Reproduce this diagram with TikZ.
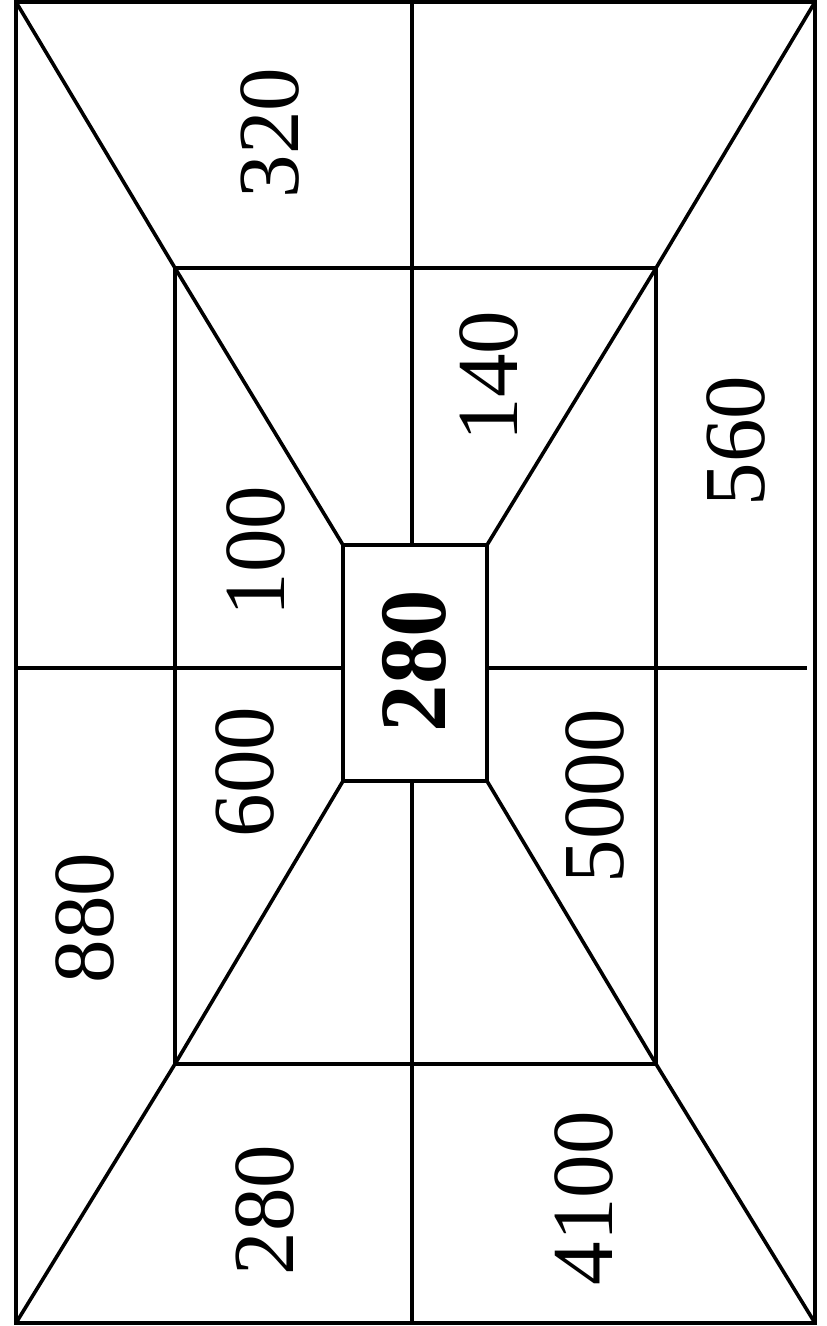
\documentclass[tikz,border=0pt]{standalone}
\usepackage{fontspec}
\setmainfont{Liberation Serif}
\begin{document}
\begin{tikzpicture}[x=1pt,y=-1pt,line width=3.6pt,
  lbl/.style={rotate=90,inner sep=0pt,font=\fontsize{87}{87}\selectfont},
  blbl/.style={rotate=90,inner sep=0pt,font=\fontsize{95}{95}\selectfont\bfseries}]
\useasboundingbox (0,0) rectangle (827,1326);
\coordinate (O1) at (16,2);
\coordinate (O2) at (815,2);
\coordinate (O3) at (815,1323);
\coordinate (O4) at (16,1323);
\coordinate (M1) at (175,268);
\coordinate (M2) at (656,268);
\coordinate (M3) at (656,1064);
\coordinate (M4) at (175,1064);
\coordinate (I1) at (343,545);
\coordinate (I2) at (487,545);
\coordinate (I3) at (487,781);
\coordinate (I4) at (343,781);
\coordinate (VT) at (412,2);
\coordinate (VA) at (412,545);
\coordinate (VB) at (412,781);
\coordinate (VD) at (412,1323);
\coordinate (HL) at (16,668);
\coordinate (HA) at (343,668);
\coordinate (HB) at (487,668);
\coordinate (HR) at (807,668);
\draw (O1) rectangle (O3);
\draw (M1) rectangle (M3);
\draw (I1) rectangle (I3);
\draw (O1) -- (M1) -- (I1);
\draw (O2) -- (M2) -- (I2);
\draw (O3) -- (M3) -- (I3);
\draw (O4) -- (M4) -- (I4);
\draw (VT) -- (VA);
\draw (VB) -- (VD);
\draw (HL) -- (HA);
\draw (HB) -- (HR);
\node[lbl] (a) at (270,133) {320};
\node[lbl] (b) at (489,376) {140};
\node[lbl] (c) at (736,441) {560};
\node[lbl] (d) at (256,551) {100};
\node[blbl] (e) at (414,661) {280};
\node[lbl] (f) at (245,772) {600};
\node[lbl] (g) at (595,796) {5000};
\node[lbl] (h) at (85,918) {880};
\node[lbl] (i) at (265,1210) {280};
\node[lbl] (j) at (584,1198) {4100};
\end{tikzpicture}
\end{document}
